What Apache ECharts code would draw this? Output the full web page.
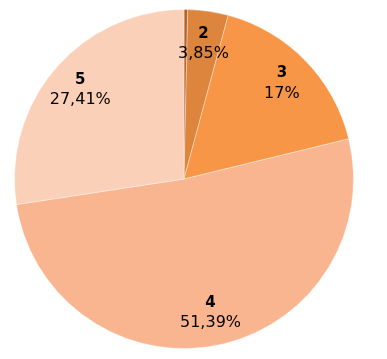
<!DOCTYPE html>
<html>
<head>
<meta charset="utf-8">
<script src="https://cdn.jsdelivr.net/npm/echarts@6/dist/echarts.min.js"></script>
<style>
html,body{margin:0;padding:0;background:#fff;}
#chart{width:387px;height:359px;}
</style>
</head>
<body>
<div id="chart"></div>
<script>
var categories = ['1', '2', '3', '4', '5'];
var percentValues = [0.35, 3.85, 17, 51.39, 27.41];
var sliceColors = ['#b5652a', '#dd843d', '#f79646', '#f9b590', '#fbd0b8'];
var showLabel = [false, true, true, true, true];

function fmt(v) { return String(v).replace('.', ',') + '%'; }

var pieData = categories.map(function (c, i) {
  return { name: c, value: percentValues[i], itemStyle: { color: sliceColors[i] } };
});
var labelData = categories.map(function (c, i) {
  return { name: c, value: percentValues[i], label: { show: showLabel[i] } };
});

var FONT = '"DejaVu Sans", Verdana, sans-serif';

var chart = echarts.init(document.getElementById('chart'), null, { renderer: 'canvas' });
chart.setOption({
  animation: false,
  series: [
    {
      type: 'pie',
      center: [184, 179],
      radius: [0, 169.5],
      startAngle: 90,
      clockwise: true,
      silent: true,
      label: { show: false },
      labelLine: { show: false },
      itemStyle: { borderColor: 'rgba(255,255,255,0.6)', borderWidth: 0.6 },
      data: pieData
    },
    {
      type: 'pie',
      center: [184, 179],
      radius: [98, 169.5],
      startAngle: 90,
      clockwise: true,
      silent: true,
      itemStyle: { color: 'rgba(0,0,0,0)', borderWidth: 0 },
      labelLine: { show: false },
      label: {
        show: true,
        position: 'inside',
        formatter: function (p) { return '{b|' + p.name + '}\n{v|' + fmt(p.value) + '}'; },
        rich: {
          b: { fontFamily: FONT, fontWeight: 'bold', fontSize: 15, color: '#000', lineHeight: 20, align: 'center' },
          v: { fontFamily: FONT, fontSize: 16, color: '#000', lineHeight: 20, align: 'center' }
        }
      },
      data: labelData
    }
  ]
});
</script>
</body>
</html>
